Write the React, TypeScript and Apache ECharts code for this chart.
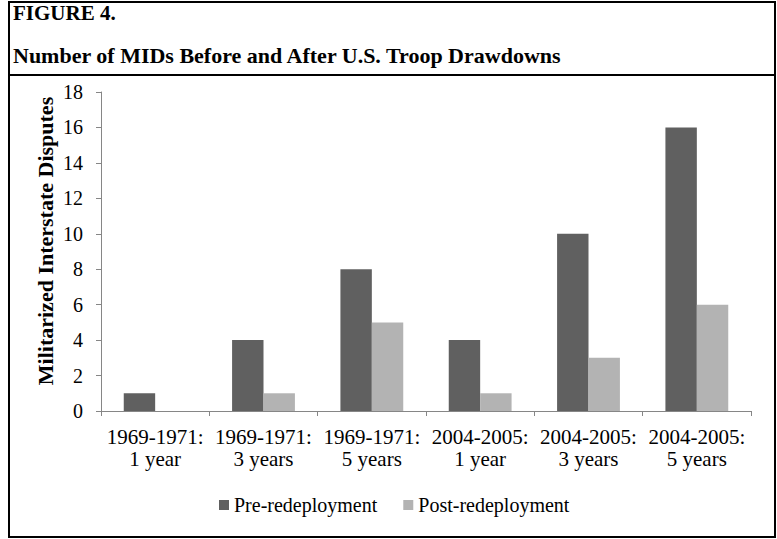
import React, { useEffect, useRef } from "react";
import * as echarts from "echarts";

const categories = [
  "1969-1971:\n1 year",
  "1969-1971:\n3 years",
  "1969-1971:\n5 years",
  "2004-2005:\n1 year",
  "2004-2005:\n3 years",
  "2004-2005:\n5 years",
];
const preValues = [1, 4, 8, 4, 10, 16];
const postValues = [0, 1, 5, 1, 3, 6];
const seriesNames = ["Pre-redeployment", "Post-redeployment"];
const titleLine1 = "FIGURE 4.";
const titleLine2 = "Number of MIDs Before and After U.S. Troop Drawdowns";
const yAxisTitle = "Militarized Interstate Disputes";

const FONT = "Liberation Serif";

export default function App() {
  const ref = useRef<HTMLDivElement>(null);
  useEffect(() => {
    if (!ref.current) return;
    const chart = echarts.init(ref.current, undefined, { renderer: "svg" });
    chart.setOption({
      animation: false,
      backgroundColor: "#ffffff",
      textStyle: { fontFamily: FONT, color: "#000" },
      grid: { left: 101, right: 26, top: 92, bottom: 128, containLabel: false },
      legend: {
        left: 214,
        top: 490,
        itemWidth: 10,
        itemHeight: 10,
        itemGap: 26,
        icon: "rect",
        textStyle: { fontFamily: FONT, fontSize: 20, color: "#000" },
        data: seriesNames,
      },
      xAxis: {
        type: "category",
        data: categories,
        axisLine: { lineStyle: { color: "#868686", width: 1 } },
        axisTick: { show: true, length: 5, lineStyle: { color: "#868686" } },
        axisLabel: {
          fontFamily: FONT,
          fontSize: 21,
          lineHeight: 22,
          color: "#000",
          margin: 15,
          interval: 0,
        },
      },
      yAxis: {
        type: "value",
        min: 0,
        max: 18,
        interval: 2,
        splitLine: { show: false },
        axisLine: { show: true, lineStyle: { color: "#868686", width: 1 } },
        axisTick: { show: true, length: 5, lineStyle: { color: "#868686" } },
        axisLabel: { fontFamily: FONT, fontSize: 20, color: "#000", margin: 18 },
      },
      series: [
        {
          name: seriesNames[0],
          type: "bar",
          data: preValues,
          barGap: "0%",
          barCategoryGap: "42%",
          itemStyle: { color: "#606060" },
        },
        {
          name: seriesNames[1],
          type: "bar",
          data: postValues,
          barGap: "0%",
          barCategoryGap: "42%",
          itemStyle: { color: "#b3b3b3" },
        },
      ],
      graphic: [
        {
          type: "rect",
          shape: { x: 9, y: 2, width: 766, height: 535 },
          style: { fill: "none", stroke: "#000", lineWidth: 2 },
          silent: true,
        },
        {
          type: "line",
          shape: { x1: 9, y1: 75, x2: 775, y2: 75 },
          style: { stroke: "#000", lineWidth: 2 },
          silent: true,
        },
        {
          type: "text",
          x: 13,
          y: 13,
          style: {
            text: titleLine1,
            fontFamily: FONT,
            fontSize: 21,
            fontWeight: "bold",
            fill: "#000",
            align: "left",
            verticalAlign: "middle",
          },
        },
        {
          type: "text",
          x: 13,
          y: 55,
          style: {
            text: titleLine2,
            fontFamily: FONT,
            fontSize: 22,
            fontWeight: "bold",
            fill: "#000",
            align: "left",
            verticalAlign: "middle",
          },
        },
        {
          type: "text",
          x: 45,
          y: 241,
          rotation: Math.PI / 2,
          style: {
            text: yAxisTitle,
            fontFamily: FONT,
            fontSize: 22,
            fontWeight: "bold",
            fill: "#000",
            align: "center",
            verticalAlign: "middle",
          },
        },
      ],
    });
    return () => chart.dispose();
  }, []);
  return (
    <div
      ref={ref}
      style={{ position: "absolute", left: 0, top: 0, width: 777, height: 539 }}
    />
  );
}
